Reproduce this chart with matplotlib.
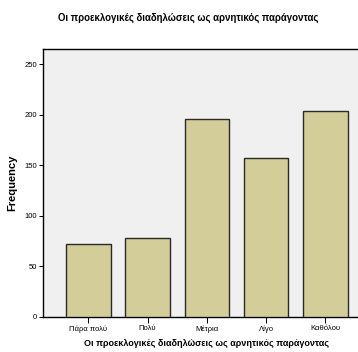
import matplotlib
matplotlib.use("Agg")
import matplotlib.pyplot as plt

# ── Data ──────────────────────────────────────────────────────────────────────
categories = ["Πάρα πολύ", "Πολύ", "Μέτρια", "Λίγο", "Καθόλου"]
counts     = [72, 78, 196, 157, 204]
yticks     = [0, 50, 100, 150, 200, 250]

TITLE = "Οι προεκλογικές διαδηλώσεις ως αρνητικός παράγοντας"

BAR_C  = "#d3ce99"
EDGE_C = "#2a2a2a"
BG     = "#f0f0f0"

plt.rcParams["font.family"] = ["Liberation Sans", "DejaVu Sans"]

W, H = 358, 352
fig = plt.figure(figsize=(W / 100, H / 100), dpi=100)
fig.patch.set_facecolor("white")

# axes run past the right edge of the figure, like the original
left, right, top, bottom = 42.7, 371, 49, 316.7
ax = fig.add_axes([left / W, 1 - bottom / H, (right - left) / W, (bottom - top) / H])
ax.set_facecolor(BG)

x = range(len(categories))
ax.bar(x, counts, width=0.75, color=BAR_C, edgecolor=EDGE_C, linewidth=1.0, zorder=3)

ax.set_xlim(-0.77, 4.77)
ax.set_ylim(0, 265)
ax.set_yticks(yticks)
ax.set_xticks(list(x))
ax.set_xticklabels(categories, fontsize=5.5)
ax.tick_params(axis="y", labelsize=5.5, length=3, width=0.7, pad=1)
ax.tick_params(axis="x", length=4, width=0.7, pad=2)

for s in ["left", "bottom", "top"]:
    ax.spines[s].set_color("black")
    ax.spines[s].set_linewidth(1.0)
ax.spines["right"].set_visible(False)

ax.set_ylabel("Frequency", fontsize=8, fontweight="bold", labelpad=5)
ax.set_xlabel(TITLE, fontsize=6.5, fontweight="bold", labelpad=5)
fig.text(188 / W, 1 - 18 / H, TITLE, ha="center", va="center", fontsize=6.9, fontweight="bold")

plt.savefig("out.png", dpi=100, facecolor="white")
